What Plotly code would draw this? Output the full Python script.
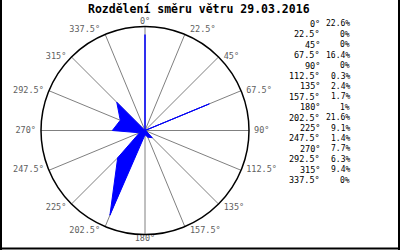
import plotly.graph_objects as go

directions = [0, 22.5, 45, 67.5, 90, 112.5, 135, 157.5, 180, 202.5, 225, 247.5, 270, 292.5, 315, 337.5]
dir_labels = ["0°", "22.5°", "45°", "67.5°", "90°", "112.5°", "135°", "157.5°", "180°",
              "202.5°", "225°", "247.5°", "270°", "292.5°", "315°", "337.5°"]
percent = [22.6, 0, 0, 16.4, 0, 0.3, 2.4, 1.7, 1, 21.6, 9.1, 1.4, 7.7, 6.3, 9.4, 0]
pct_labels = ["22.6%", "0%", "0%", "16.4%", "0%", "0.3%", "2.4%", "1.7%", "1%",
              "21.6%", "9.1%", "1.4%", "7.7%", "6.3%", "9.4%", "0%"]
title = "Rozdělení směru větru 29.03.2016"

W, H = 400, 250
mono = "DejaVu Sans Mono"
R_MAX = 24.5

label_pos = ["top center", "top right", "middle right", "middle right", "middle right",
             "middle right", "bottom right", "bottom right", "bottom center", "bottom left",
             "bottom left", "middle left", "middle left", "middle left", "middle left",
             "top left"]
pad = "\u2009"
padded = []
for t, pos in zip(dir_labels, label_pos):
    if pos.endswith("right"):
        padded.append(pad + t)
    elif pos.endswith("left"):
        padded.append(t + pad)
    else:
        padded.append(t)

fig = go.Figure()
fig.add_trace(go.Scatterpolar(
    r=percent + [percent[0]],
    theta=directions + [directions[0]],
    mode="lines",
    fill="toself",
    fillcolor="#0000ff",
    line=dict(color="#0000ff", width=1),
    hoverinfo="skip",
))
# angular labels on the circle edge
fig.add_trace(go.Scatterpolar(
    r=[R_MAX] * len(directions),
    theta=directions,
    mode="text",
    text=padded,
    textposition=label_pos,
    textfont=dict(family=mono, size=8.5, color="#606060"),
    cliponaxis=False,
    hoverinfo="skip",
))

cx, cy, rad = 145, 130.5, 104
fig.update_layout(
    width=W, height=H,
    margin=dict(l=0, r=0, t=0, b=0),
    paper_bgcolor="white",
    showlegend=False,
    polar=dict(
        domain=dict(x=[(cx - rad) / W, (cx + rad) / W],
                    y=[(H - cy - rad) / H, (H - cy + rad) / H]),
        bgcolor="white",
        radialaxis=dict(range=[0, R_MAX], visible=False, showgrid=False),
        angularaxis=dict(
            rotation=90, direction="clockwise",
            tickmode="array", tickvals=directions, ticktext=dir_labels,
            showticklabels=False,
            showgrid=True, gridcolor="#808080", gridwidth=1,
            showline=True, linecolor="black", linewidth=1.5,
            ticks="",
        ),
    ),
)

annotations = [dict(
    text="<b>" + title + "</b>", x=199 / W, y=1 - 8.5 / H, xref="paper", yref="paper",
    xanchor="center", yanchor="middle", showarrow=False,
    font=dict(family=mono, size=11.5, color="black"),
)]
for i, (d, p) in enumerate(zip(dir_labels, pct_labels)):
    yy = 1 - (24 + i * 10.4) / H
    annotations.append(dict(text=d, x=322 / W, y=yy, xref="paper", yref="paper",
                            xanchor="right", yanchor="middle", showarrow=False,
                            font=dict(family=mono, size=8.5, color="black")))
    annotations.append(dict(text=p, x=352 / W, y=yy, xref="paper", yref="paper",
                            xanchor="right", yanchor="middle", showarrow=False,
                            font=dict(family=mono, size=8, color="black")))
fig.update_layout(annotations=annotations)

fig.update_layout(shapes=[
    dict(type="line", xref="paper", yref="paper", x0=1 / W, x1=1 / W, y0=0, y1=1,
         line=dict(color="black", width=2)),
    dict(type="line", xref="paper", yref="paper", x0=1 - 1 / W, x1=1 - 1 / W, y0=0, y1=1,
         line=dict(color="black", width=2)),
    dict(type="line", xref="paper", yref="paper", x0=0, x1=1, y0=1.5 / H, y1=1.5 / H,
         line=dict(color="black", width=2)),
])

fig.write_html("out.html")
